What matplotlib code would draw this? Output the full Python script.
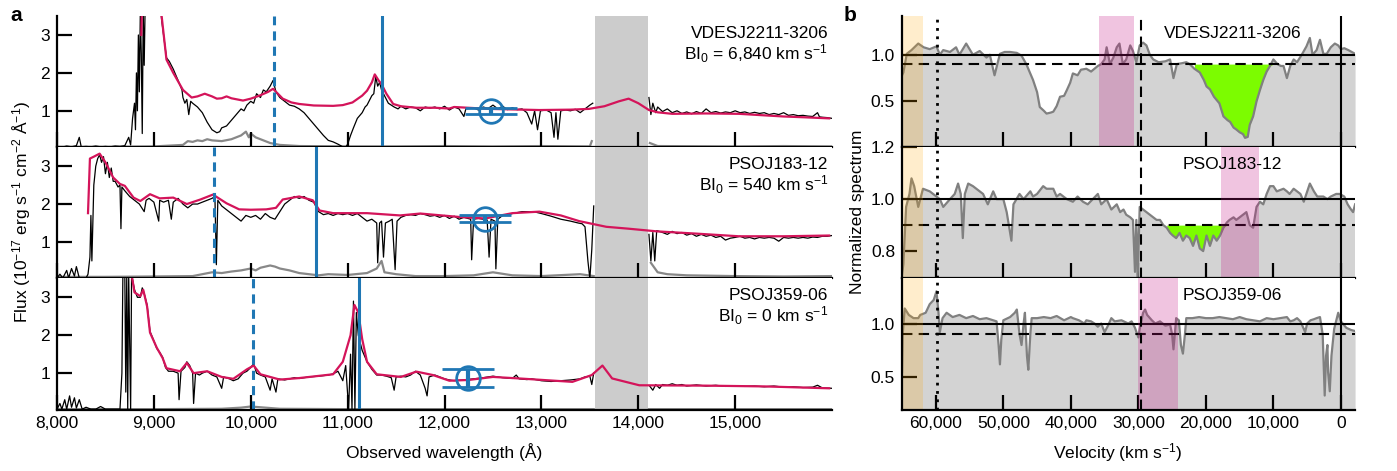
import numpy as np
import matplotlib.pyplot as plt

plt.rcParams['font.family'] = ['Liberation Sans', 'DejaVu Sans']
plt.rcParams['mathtext.fontset'] = 'custom'
plt.rcParams['mathtext.rm'] = 'Liberation Sans'
plt.rcParams['mathtext.it'] = 'Liberation Sans:italic'
plt.rcParams['mathtext.bf'] = 'Liberation Sans:bold'

nan = np.nan

# ---------------- panel a data (wavelength A, flux 1e-17 erg/s/cm2/A) ----------------
names = ['VDESJ2211-3206', 'PSOJ183-12', 'PSOJ359-06']
bi_values = ['6,840', '540', '0']

top_spec = [(8000, 0.06), (8050, 0.04), (8100, 0.07), (8150, 0.05), (8200, 0.08), (8230, 0.3), (8250, 0.05),
            (8300, 0.06), (8350, 0.05), (8400, 0.07), (8450, 0.05), (8500, 0.06), (8550, 0.05), (8600, 0.07),
            (8650, 0.06), (8700, 0.08), (8740, 0.3), (8760, 0.1), (8780, 0.8), (8800, 1.2), (8810, 0.5),
            (8820, 2.0), (8830, 1.0), (8840, 3.0), (8850, 1.5), (8860, 3.6), (8870, 2.5), (8880, 0.4),
            (8890, 3.6), (8900, 2.2), (8910, 3.8), (8950, 4.0), (9060, 4.0), (9080, 3.4), (9100, 3.0),
            (9130, 2.4), (9160, 2.3), (9200, 2.1), (9250, 1.8), (9290, 1.55), (9300, 1.35), (9320, 1.2),
            (9340, 1.3), (9360, 0.9), (9380, 1.25), (9400, 1.2), (9450, 1.1), (9500, 0.95), (9550, 0.7),
            (9600, 0.5), (9650, 0.42), (9680, 0.45), (9700, 0.55), (9750, 0.6), (9800, 0.75), (9850, 0.9),
            (9900, 1.05), (9930, 1.0), (9960, 1.15), (10000, 1.25), (10030, 1.2), (10060, 1.45), (10100, 1.35),
            (10130, 1.55), (10160, 1.5), (10200, 1.65), (10230, 1.8), (10260, 1.5), (10300, 1.35), (10350, 1.25),
            (10400, 1.15), (10450, 1.12), (10500, 1.05), (10550, 0.95), (10600, 0.8), (10650, 0.65), (10700, 0.5),
            (10750, 0.35), (10800, 0.22), (10850, 0.18), (10900, 0.12), (10950, 0.05), (10980, 0.04), (11000, 0.12),
            (11030, 0.35), (11060, 0.55), (11100, 0.8), (11150, 0.95), (11180, 1.1), (11200, 1.15), (11230, 1.3),
            (11250, 1.4), (11270, 1.45), (11290, 1.9), (11310, 1.65), (11330, 1.75), (11350, 1.55), (11380, 1.4),
            (11420, 1.2), (11450, 1.15), (11480, 1.1), (11520, 1.05), (11550, 1.12), (11600, 1.05), (11650, 1.1),
            (11700, 1.08), (11750, 1.0), (11800, 1.1), (11850, 1.07), (11900, 1.1), (11950, 1.05), (12000, 1.12),
            (12050, 1.02), (12100, 1.1), (12150, 1.05), (12200, 0.85), (12220, 1.05), (12300, 1.08), (12350, 1.02),
            (12400, 1.1), (12450, 1.06), (12500, 1.15), (12550, 1.05), (12600, 1.12), (12650, 1.03), (12700, 1.08),
            (12750, 1.03), (12800, 1.05), (12850, 0.95), (12900, 0.65), (12930, 1.0), (12960, 0.5), (12990, 1.0),
            (13050, 1.02), (13100, 0.95), (13130, 0.3), (13150, 0.95), (13170, 0.25), (13200, 1.0), (13250, 1.02),
            (13300, 1.0), (13350, 1.04), (13400, 0.95), (13450, 1.05), (13500, 1.15), (13530, 1.2), (13550, nan),
            (14100, nan), (14110, 1.35), (14130, 0.9), (14150, 1.2), (14180, 0.95), (14200, 1.1), (14250, 0.98),
            (14300, 1.05), (14350, 0.95), (14400, 1.0), (14450, 0.93), (14500, 0.97), (14550, 0.92), (14600, 0.98),
            (14650, 0.93), (14700, 1.05), (14750, 0.95), (14800, 0.98), (14850, 0.94), (14900, 0.97), (14950, 0.95),
            (15000, 1.0), (15050, 0.95), (15100, 0.97), (15150, 0.93), (15200, 0.96), (15250, 0.93), (15300, 0.95),
            (15350, 0.9), (15400, 0.93), (15450, 0.9), (15500, 0.95), (15550, 0.88), (15600, 0.9), (15650, 0.87),
            (15700, 0.88), (15750, 0.86), (15800, 0.85), (15850, 0.95), (15870, 0.84), (15900, 0.83), (15950, 0.82),
            (16000, 0.8)]
top_model = [(8870, 3.0), (8880, 4.0), (9060, 4.0), (9080, 3.5), (9130, 2.35), (9200, 2.0), (9300, 1.55),
             (9390, 1.35), (9450, 1.38), (9525, 1.45), (9600, 1.38), (9650, 1.32), (9700, 1.33), (9750, 1.38),
             (9800, 1.33), (9920, 1.27), (10000, 1.32), (10090, 1.4), (10180, 1.5), (10230, 1.58), (10280, 1.45),
             (10330, 1.32), (10420, 1.22), (10500, 1.18), (10650, 1.14), (10850, 1.13), (10950, 1.15), (11050, 1.22),
             (11150, 1.4), (11200, 1.53), (11250, 1.75), (11280, 1.96), (11320, 1.8), (11350, 1.7), (11400, 1.45),
             (11470, 1.18), (11550, 1.12), (11710, 1.08), (11900, 1.08), (12050, 1.06), (12100, 1.1), (12460, 1.05),
             (12980, 1.02), (13300, 1.03), (13490, 1.05), (13650, 1.12), (13800, 1.25), (13900, 1.32), (14000, 1.2),
             (14110, 1.02), (14200, 0.96), (14350, 0.92), (14700, 0.93), (15040, 0.92), (15300, 0.88), (15500, 0.85),
             (15700, 0.83), (15970, 0.8)]
top_noise = [(8000, 0.05), (8500, 0.05), (9000, 0.06), (9300, 0.1), (9350, 0.2), (9400, 0.18), (9450, 0.22),
             (9500, 0.2), (9550, 0.25), (9600, 0.22), (9700, 0.2), (9800, 0.25), (9850, 0.3), (9900, 0.35),
             (9950, 0.45), (9980, 0.3), (10000, 0.4), (10050, 0.3), (10100, 0.25), (10200, 0.15), (10300, 0.1),
             (10500, 0.07), (11000, 0.06), (11500, 0.06), (12000, 0.07), (12500, 0.06), (13000, 0.07),
             (13500, 0.06), (13520, 0.2), (13540, nan), (14110, nan), (14120, 0.15), (14200, 0.07), (15000, 0.06),
             (15500, 0.07), (16000, 0.06)]

mid_spec = [(8000, 0.05), (8030, 0.15), (8060, 0.05), (8100, 0.25), (8120, 0.05), (8150, 0.3), (8180, 0.1),
            (8200, 0.35), (8230, 0.05), (8260, 0.05), (8300, 0.05), (8320, 0.15), (8340, 0.6), (8350, 1.7),
            (8360, 0.5), (8380, 2.5), (8400, 3.0), (8420, 3.2), (8440, 3.3), (8460, 3.1), (8480, 3.25), (8500, 2.8),
            (8520, 3.1), (8540, 2.7), (8560, 2.95), (8580, 2.6), (8600, 2.6), (8630, 2.45), (8650, 2.5), (8660, 1.35),
            (8670, 2.45), (8700, 2.35), (8750, 2.2), (8800, 2.1), (8850, 2.0), (8900, 1.8), (8920, 2.1), (8950, 2.15),
            (9000, 2.05), (9050, 1.55), (9060, 2.1), (9100, 2.05), (9150, 2.1), (9180, 1.6), (9200, 2.05),
            (9250, 2.15), (9300, 2.0), (9350, 1.9), (9400, 2.0), (9450, 2.0), (9500, 2.05), (9550, 2.1), (9600, 2.15),
            (9630, 2.2), (9645, 0.4), (9660, 2.1), (9700, 1.95), (9750, 1.85), (9800, 1.75), (9850, 1.65),
            (9900, 1.55), (9950, 1.7), (10000, 1.65), (10050, 1.7), (10100, 1.6), (10150, 1.75), (10200, 1.65),
            (10250, 1.6), (10300, 1.8), (10350, 2.0), (10400, 2.1), (10450, 2.2), (10500, 2.15), (10550, 2.2),
            (10600, 2.1), (10650, 2.05), (10700, 1.8), (10750, 1.72), (10800, 1.75), (10850, 1.7), (10900, 1.75),
            (10950, 1.72), (11000, 1.75), (11050, 1.7), (11100, 1.75), (11150, 1.65), (11200, 1.55), (11250, 1.6),
            (11300, 1.5), (11310, 0.45), (11330, 1.5), (11350, 1.55), (11370, 0.6), (11390, 1.5), (11430, 1.55),
            (11460, 1.6), (11490, 0.27), (11510, 1.55), (11550, 1.65), (11600, 1.7), (11650, 1.72), (11700, 1.7),
            (11750, 1.75), (11800, 1.72), (11850, 1.68), (11900, 1.7), (11950, 1.65), (12000, 1.7), (12050, 1.62),
            (12100, 1.68), (12150, 1.6), (12200, 1.65), (12270, 1.6), (12280, 0.53), (12300, 1.6), (12350, 1.62),
            (12400, 1.6), (12440, 1.58), (12460, 0.6), (12480, 1.6), (12520, 1.55), (12530, 0.29), (12550, 1.6),
            (12600, 1.7), (12700, 1.75), (12800, 1.8), (12900, 1.8), (12950, 1.78), (13000, 1.75), (13100, 1.68),
            (13200, 1.6), (13300, 1.55), (13380, 1.5), (13420, 1.48), (13450, 1.4), (13480, 0.5), (13500, 0.03),
            (13520, 0.8), (13540, 1.95), (13550, nan), (14100, nan), (14110, 1.2), (14130, 0.5), (14150, 1.25),
            (14170, 0.5), (14190, 1.3), (14250, 1.25), (14300, 1.2), (14350, 1.28), (14400, 1.22), (14450, 1.25),
            (14500, 1.18), (14550, 1.22), (14600, 1.15), (14650, 1.2), (14700, 1.15), (14750, 1.18), (14800, 1.12),
            (14850, 1.15), (14900, 1.05), (14950, 1.1), (15000, 1.12), (15050, 1.15), (15100, 1.1), (15150, 1.12),
            (15200, 1.08), (15250, 1.12), (15300, 1.1), (15350, 1.12), (15400, 1.1), (15450, 1.02), (15500, 1.12),
            (15550, 1.1), (15600, 1.12), (15650, 1.1), (15700, 1.12), (15750, 1.1), (15800, 1.13), (15850, 1.12),
            (15900, 1.15), (15950, 1.15), (16000, 1.17)]
mid_model = [(8320, 1.76), (8340, 3.2), (8380, 3.25), (8440, 3.33), (8500, 3.1), (8580, 2.7), (8650, 2.53),
             (8700, 2.48), (8790, 2.17), (8860, 2.08), (8960, 2.26), (9060, 2.15), (9200, 2.17), (9340, 2.0),
             (9480, 2.12), (9610, 2.25), (9750, 2.02), (9880, 1.86), (10000, 1.85), (10160, 1.86), (10260, 1.9),
             (10330, 2.12), (10500, 2.2), (10640, 2.1), (10710, 1.83), (10850, 1.76), (11200, 1.76), (11540, 1.7),
             (11750, 1.75), (12150, 1.66), (12420, 1.62), (12700, 1.76), (12980, 1.8), (13200, 1.7), (13390, 1.55),
             (13670, 1.4), (13900, 1.35), (14190, 1.28), (14600, 1.22), (15040, 1.15), (15500, 1.15), (15970, 1.17)]
mid_noise = [(8000, 0.08), (8500, 0.08), (9000, 0.09), (9400, 0.1), (9500, 0.15), (9600, 0.2), (9700, 0.18),
             (9800, 0.22), (9900, 0.25), (10000, 0.3), (10050, 0.25), (10100, 0.32), (10200, 0.38), (10250, 0.35),
             (10300, 0.3), (10400, 0.25), (10500, 0.18), (10600, 0.15), (10700, 0.12), (10800, 0.15), (11000, 0.13),
             (11200, 0.18), (11300, 0.3), (11350, 0.5), (11380, 0.2), (11500, 0.15), (11700, 0.1), (12000, 0.1),
             (12300, 0.12), (12500, 0.2), (12700, 0.12), (13000, 0.1), (13400, 0.15), (13540, 0.1), (13550, nan),
             (14100, nan), (14130, 0.45), (14200, 0.2), (14300, 0.15), (14500, 0.12), (15000, 0.1), (15500, 0.09),
             (16000, 0.1)]

bot_spec = [(8000, 0.05), (8030, 0.2), (8050, 0.05), (8080, 0.3), (8100, 0.05), (8130, 0.4), (8150, 0.1),
            (8180, 0.35), (8200, 0.08), (8230, 0.3), (8260, 0.05), (8300, 0.1), (8350, 0.05), (8400, 0.05),
            (8450, 0.12), (8500, 0.05), (8550, 0.05), (8600, 0.05), (8650, 0.05), (8670, 1.0), (8680, 3.6),
            (8700, 3.6), (8710, 0.5), (8720, 3.6), (8730, 0.05), (8740, 3.6), (8760, 0.05), (8770, 3.6),
            (8800, 3.2), (8830, 3.0), (8860, 3.0), (8880, 3.25), (8900, 3.1), (8930, 2.8), (8960, 2.1),
            (9000, 1.85), (9030, 1.65), (9060, 1.55), (9090, 1.42), (9120, 1.15), (9150, 1.05), (9200, 1.05),
            (9250, 1.0), (9260, 0.3), (9280, 1.05), (9320, 1.15), (9340, 1.3), (9370, 1.2), (9400, 1.0), (9410, 0.2),
            (9430, 1.0), (9470, 0.95), (9500, 1.0), (9550, 1.05), (9600, 0.95), (9650, 0.9), (9700, 0.6),
            (9720, 0.9), (9780, 0.85), (9820, 0.8), (9870, 0.85), (9920, 1.0), (9960, 1.05), (10000, 1.15),
            (10030, 1.25), (10060, 1.0), (10100, 0.95), (10150, 0.9), (10200, 0.55), (10220, 0.85), (10260, 0.5),
            (10280, 0.85), (10350, 0.82), (10400, 0.85), (10450, 0.88), (10500, 0.86), (10600, 0.9), (10700, 0.92),
            (10800, 0.95), (10850, 0.98), (10900, 1.05), (10950, 0.8), (10980, 1.2), (11010, 0.05), (11030, 1.5),
            (11045, 0.05), (11060, 2.9), (11075, 0.05), (11090, 2.6), (11110, 2.0), (11150, 1.6), (11200, 1.3),
            (11250, 1.1), (11300, 0.95), (11350, 0.95), (11400, 0.92), (11450, 0.88), (11480, 0.55), (11500, 0.9),
            (11550, 0.92), (11600, 0.9), (11650, 0.95), (11700, 1.05), (11750, 0.95), (11800, 0.6), (11820, 0.4),
            (11840, 0.9), (11900, 0.95), (11950, 0.9), (12000, 0.85), (12050, 0.82), (12100, 0.8), (12200, 0.82),
            (12300, 0.85), (12400, 0.88), (12500, 0.92), (12550, 0.9), (12600, 0.88), (12700, 0.86), (12740, 0.95),
            (12770, 0.85), (12850, 0.83), (12900, 0.85), (13000, 0.8), (13100, 0.78), (13200, 0.8), (13300, 0.82),
            (13400, 0.85), (13450, 0.9), (13500, 0.92), (13520, 0.7), (13540, 1.0), (13550, nan), (14100, nan),
            (14120, 0.65), (14150, 0.55), (14180, 0.7), (14220, 0.6), (14250, 0.7), (14300, 0.68), (14350, 0.72),
            (14400, 0.68), (14450, 0.7), (14500, 0.66), (14600, 0.69), (14700, 0.66), (14800, 0.68), (14900, 0.65),
            (15000, 0.67), (15100, 0.65), (15200, 0.66), (15300, 0.64), (15400, 0.66), (15500, 0.63), (15600, 0.64),
            (15700, 0.62), (15800, 0.63), (15850, 0.68), (15900, 0.61), (16000, 0.6)]
bot_model = [(8770, 3.6), (8800, 3.13), (8860, 3.03), (8890, 3.2), (8930, 2.76), (8960, 2.07), (9030, 1.67),
             (9090, 1.4), (9130, 1.13), (9270, 1.05), (9340, 1.27), (9410, 1.0), (9550, 1.05), (9700, 0.9),
             (9820, 0.85), (9960, 1.1), (10030, 1.2), (10100, 0.97), (10300, 0.83), (10500, 0.87), (10850, 0.97),
             (10950, 1.3), (11030, 2.0), (11070, 2.8), (11110, 2.6), (11150, 1.9), (11200, 1.3), (11300, 0.97),
             (11550, 0.9), (11710, 1.04), (11880, 0.95), (12050, 0.8), (12250, 0.82), (12500, 0.9), (12770, 0.86),
             (13320, 0.77), (13520, 0.95), (13630, 1.2), (13730, 0.86), (14010, 0.68), (14700, 0.67), (15300, 0.65),
             (15970, 0.6)]
bot_noise = [(8000, 0.05), (9000, 0.05), (9700, 0.06), (9900, 0.09), (10000, 0.12), (10100, 0.1), (10300, 0.06),
             (11000, 0.05), (12000, 0.05), (13000, 0.05), (13540, 0.05), (13550, nan), (14100, nan), (14110, 0.05),
             (15000, 0.05), (16000, 0.05)]

shade_a = (13550, 14100)
dashed_lines = [10240, 9625, 10025]
solid_lines = [11355, 10670, 11115]
points = [(12480, 1.0, 0.08), (12420, 1.61, 0.09), (12240, 0.87, 0.24)]

# ---------------- panel b data (velocity km/s, normalized flux) ----------------
b_top = [(65000, 0.78), (64800, 0.81), (64300, 1.01), (63600, 1.05), (62600, 1.12), (61800, 1.08), (60900, 1.06),
         (59900, 1.09), (59400, 1.0), (58900, 1.05), (57900, 1.03), (57000, 1.08), (56500, 1.0), (55500, 1.12),
         (54500, 1.0), (53500, 1.04), (52500, 0.97), (52000, 1.0), (51300, 0.78), (50500, 1.01), (49800, 1.03),
         (49000, 1.03), (48000, 1.02), (47300, 0.99), (46600, 0.9), (45600, 0.73), (45000, 0.6), (44600, 0.44),
         (44000, 0.4), (43600, 0.37), (43000, 0.38), (42600, 0.39), (42100, 0.45), (41600, 0.55), (41000, 0.56),
         (40600, 0.62), (40100, 0.7), (39700, 0.8), (39000, 0.78), (38500, 0.84), (37700, 0.85), (37000, 0.82),
         (36000, 0.88), (35500, 0.9), (35000, 0.95), (34700, 1.08), (34200, 0.9), (33700, 0.97), (33200, 1.08),
         (32800, 1.12), (32300, 0.9), (31800, 0.95), (31200, 1.1), (30800, 1.04), (30300, 0.92), (29800, 1.1),
         (29300, 1.13), (28800, 1.1), (28300, 1.0), (27800, 0.95), (27000, 0.92), (26000, 0.93), (25300, 0.95),
         (24800, 0.75), (24300, 0.9), (23500, 0.91), (22900, 0.92), (22400, 0.9), (21700, 0.85), (20900, 0.81),
         (20300, 0.73), (19900, 0.66), (19400, 0.63), (18800, 0.55), (18000, 0.48), (17400, 0.34), (16800, 0.3),
         (16400, 0.28), (15900, 0.22), (15500, 0.2), (15000, 0.17), (14500, 0.15), (14200, 0.11), (13800, 0.12),
         (13500, 0.25), (13000, 0.34), (12500, 0.5), (12000, 0.62), (11500, 0.73), (11000, 0.82), (10500, 0.88),
         (10000, 0.95), (9400, 0.9), (8900, 0.88), (8500, 0.88), (8000, 0.75), (7500, 0.88), (7000, 0.95),
         (6500, 0.92), (5800, 1.0), (5100, 1.09), (4600, 1.18), (4200, 1.0), (3600, 1.05), (3100, 1.16),
         (2600, 1.01), (2100, 1.01), (1500, 1.08), (900, 1.12), (400, 1.1), (0, 1.06), (-500, 1.07), (-1100, 1.05),
         (-1600, 1.03), (-2100, 1.01)]
b_mid = [(65000, 0.71), (64800, 0.75), (64400, 0.97), (63900, 1.02), (63600, 1.08), (63200, 1.05), (62600, 0.97),
         (62100, 1.02), (61900, 1.04), (60900, 1.03), (60400, 1.02), (59400, 1.0), (58900, 0.97), (57900, 1.0),
         (57200, 1.02), (56700, 1.06), (56300, 1.02), (56000, 0.85), (55700, 1.02), (55200, 1.06), (54500, 1.05),
         (53500, 1.03), (53000, 1.02), (52300, 0.98), (51500, 1.03), (51000, 1.0), (50000, 1.0), (49500, 0.95),
         (48800, 0.84), (48500, 0.98), (47600, 1.02), (47000, 1.0), (46000, 1.03), (45600, 1.01), (45000, 1.02),
         (44100, 1.05), (43600, 1.04), (42600, 1.04), (42100, 1.01), (41600, 1.02), (40600, 1.0), (39700, 0.99),
         (39000, 1.01), (38200, 0.99), (37500, 0.98), (36000, 1.02), (35500, 0.98), (34700, 1.0), (34000, 0.96),
         (33200, 0.98), (32700, 0.95), (32200, 0.96), (31800, 0.94), (31200, 0.93), (30800, 0.92), (30500, 0.72),
         (30300, 0.92), (30100, 0.7), (29800, 0.97), (29300, 0.96), (28800, 0.95), (28300, 0.94), (27800, 0.93),
         (27300, 0.92), (26800, 0.92), (26300, 0.9), (25800, 0.89), (25300, 0.87), (24900, 0.86), (24400, 0.85),
         (23900, 0.87), (23400, 0.84), (22900, 0.86), (22400, 0.85), (21900, 0.82), (21400, 0.86), (20900, 0.81),
         (20400, 0.8), (19900, 0.86), (19400, 0.82), (18900, 0.86), (18400, 0.84), (17900, 0.86), (17400, 0.89),
         (16900, 0.91), (16500, 0.92), (15900, 0.93), (15500, 0.92), (15000, 0.93), (14500, 0.94), (14000, 0.95),
         (13500, 0.9), (13000, 0.89), (12500, 0.97), (12000, 0.99), (11500, 0.98), (11000, 1.02), (10500, 1.05),
         (10000, 1.05), (9500, 1.03), (8500, 1.04), (8000, 1.03), (7600, 1.02), (7000, 1.04), (6500, 1.03),
         (6000, 1.02), (5500, 0.99), (4600, 1.06), (4000, 1.03), (3500, 1.01), (2600, 1.01), (2000, 1.0),
         (1500, 1.01), (700, 1.02), (200, 1.02), (-500, 1.01), (-1000, 0.98), (-1500, 0.96), (-1800, 0.95),
         (-2100, 0.98)]
b_bot = [(65000, 0.55), (64900, 0.9), (64600, 1.14), (64000, 1.08), (63300, 1.05), (62600, 1.05), (62300, 1.08),
         (61500, 1.1), (60900, 1.18), (60300, 1.22), (59900, 1.3), (59600, 1.1), (59400, 0.92), (59000, 1.05),
         (58400, 1.1), (57500, 1.06), (56500, 1.08), (55500, 1.05), (54500, 1.07), (53500, 1.04), (52500, 1.05),
         (51500, 1.03), (51000, 1.02), (50700, 0.8), (50500, 0.62), (50300, 0.85), (50000, 1.03), (49000, 1.06),
         (48300, 1.1), (48000, 1.13), (47600, 0.9), (47300, 0.8), (47000, 1.0), (46800, 1.1), (46500, 0.7),
         (46300, 0.57), (46000, 0.9), (45800, 1.05), (45000, 1.05), (44000, 1.06), (43000, 1.05), (42100, 1.07),
         (41000, 1.03), (40000, 1.06), (39700, 1.05), (38800, 1.03), (38000, 1.0), (37700, 1.03), (37000, 1.02),
         (36500, 1.0), (36000, 0.97), (35500, 1.0), (35000, 0.92), (34500, 0.98), (34000, 1.05), (33500, 1.02),
         (32500, 1.03), (31500, 1.0), (31000, 1.02), (30500, 0.96), (30000, 0.87), (29800, 0.95), (29300, 1.1),
         (29000, 1.13), (28700, 1.08), (28000, 1.03), (27500, 1.0), (26800, 1.02), (26000, 0.98), (25300, 0.99),
         (25000, 0.9), (24800, 0.76), (24600, 0.9), (24400, 1.05), (24000, 1.03), (23700, 0.8), (23400, 0.72),
         (23100, 0.9), (22900, 1.05), (22000, 1.05), (21000, 1.06), (20000, 1.05), (19000, 1.05), (18000, 1.06),
         (17000, 1.05), (16000, 1.04), (15000, 1.06), (14000, 1.04), (13000, 1.03), (12000, 1.02), (11000, 1.05),
         (10000, 1.04), (9000, 1.05), (8000, 1.06), (7500, 1.02), (7000, 1.03), (6500, 1.05), (6000, 1.02),
         (5500, 0.95), (5300, 0.92), (5000, 1.0), (4500, 1.03), (4000, 1.04), (3600, 1.05), (3100, 1.06),
         (2700, 0.9), (2400, 0.33), (2200, 0.7), (2000, 0.8), (1900, 0.55), (1650, 0.37), (1400, 0.7),
         (1000, 0.95), (600, 1.05), (400, 1.1), (0, 1.02), (-800, 0.96), (-1500, 0.94), (-2100, 0.93)]

b_ylims = [(0.01, 1.415), (0.695, 1.2), (0.2, 1.42)]
b_yticks = [[0.5, 1.0], [0.8, 1.0, 1.2], [0.5, 1.0]]
orange_band = (65000, 61950)
pink_bands = [(35850, 30650), (17700, 12170), (30050, 24100)]
green_ranges = [(9550, 21900), (16200, 26100), None]
dotted_v = 59850
dashed_v = 29650

blue = '#1f77b4'
magenta = '#d4145a'

fig = plt.figure(figsize=(13.97, 4.71), dpi=100)
tops = [0.966, 0.6875, 0.409]
h = 0.2785


def style_axis(ax):
    for s in ['top', 'right']:
        ax.spines[s].set_visible(False)
    for s in ['left', 'bottom']:
        ax.spines[s].set_linewidth(1.6)
        ax.spines[s].set_zorder(8)
    ax.set_axisbelow(False)
    ax.tick_params(direction='in', length=11, width=1.6, labelsize=12.5, pad=5, zorder=8)
    for t in ax.xaxis.get_major_ticks() + ax.yaxis.get_major_ticks():
        t.set_zorder(8)


# ---- panel a
spectra = [(top_spec, top_model, top_noise), (mid_spec, mid_model, mid_noise), (bot_spec, bot_model, bot_noise)]
for i in range(3):
    ax = fig.add_axes([0.0408, tops[i] - h, 0.5548, h])
    spec, model, noise = [np.array(d, dtype=float) for d in spectra[i]]
    ax.axvspan(*shade_a, color='#cccccc', lw=0, zorder=0)
    ax.plot(noise[:, 0], noise[:, 1], color='#888888', lw=1.6, zorder=1)
    ax.plot(spec[:, 0], spec[:, 1], color='black', lw=0.9, zorder=2)
    ax.plot(model[:, 0], model[:, 1], color=magenta, lw=1.6, zorder=3)
    ax.axvline(dashed_lines[i], color=blue, lw=2.2, ls=(0, (3, 2)), zorder=4)
    ax.axvline(solid_lines[i], color=blue, lw=2.2, zorder=4)
    px, py, pe = points[i]
    ax.errorbar(px, py, yerr=pe, fmt='o', ms=17, mfc='none', mec=blue, mew=2, ecolor=blue,
                elinewidth=3, capsize=19, capthick=3, zorder=5)
    ax.text(0.995, 0.87, names[i], transform=ax.transAxes, ha='right', va='center', fontsize=12.5)
    ax.text(0.995, 0.715, 'BI$_0$ = ' + bi_values[i] + ' km s$^{-1}$', transform=ax.transAxes,
            ha='right', va='center', fontsize=12.5)
    ax.set_xlim(8000, 16000)
    ax.set_ylim(0.04, 3.5)
    ax.set_yticks([1, 2, 3])
    ax.set_xticks(range(8000, 16000, 1000))
    if i == 2:
        ax.set_xticklabels(['{:,}'.format(v) for v in range(8000, 16000, 1000)])
    else:
        ax.set_xticklabels([])
    style_axis(ax)

# ---- panel b
b_spectra = [b_top, b_mid, b_bot]
for i in range(3):
    ax = fig.add_axes([0.6457, tops[i] - h, 0.3243, h])
    d = np.array(b_spectra[i], dtype=float)
    v, s = d[:, 0], d[:, 1]
    ax.fill_between(v, -1, s, color='#d3d3d3', lw=0, zorder=1)
    if green_ranges[i] is not None:
        lo, hi = green_ranges[i]
        ax.fill_between(v, np.minimum(s, 0.9), 0.9, where=(v >= lo) & (v <= hi),
                        color='#7cfc00', lw=0, zorder=2)
    ax.plot(v, s, color='#808080', lw=1.6, zorder=3)
    ax.axhline(1.0, color='black', lw=1.5, zorder=4)
    ax.axhline(0.9, color='black', lw=1.5, ls=(0, (5, 3)), zorder=4)
    ax.axvspan(*orange_band, color='orange', alpha=0.2, lw=0, zorder=5)
    ax.axvspan(*pink_bands[i], color='#c71585', alpha=0.25, lw=0, zorder=5)
    ax.axvline(dotted_v, color='black', lw=2, ls=(0, (1, 2)), zorder=6)
    ax.axvline(dashed_v, color='black', lw=1.5, ls=(0, (5, 3)), zorder=6)
    ax.axvline(0, color='black', lw=1.5, zorder=6)
    ax.text(0.729, 0.87, names[i], transform=ax.transAxes, ha='center', va='center', fontsize=12.5, zorder=7)
    ax.set_xlim(65000, -2100)
    ax.set_ylim(*b_ylims[i])
    ax.set_yticks(b_yticks[i])
    ax.set_yticklabels(['{:.1f}'.format(t) for t in b_yticks[i]])
    ax.set_xticks(range(60000, -1, -10000))
    if i == 2:
        ax.set_xticklabels(['{:,}'.format(t) for t in range(60000, -1, -10000)])
    else:
        ax.set_xticklabels([])
    style_axis(ax)

fig.text(0.0157, 0.55, 'Flux (10$^{-17}$ erg s$^{-1}$ cm$^{-2}$ Å$^{-1}$)', rotation=90,
         ha='center', va='center', fontsize=12.5)
fig.text(0.318, 0.04, 'Observed wavelength (Å)', ha='center', va='center', fontsize=12.5)
fig.text(0.614, 0.55, 'Normalized spectrum', rotation=90, ha='center', va='center', fontsize=12.5)
fig.text(0.80, 0.04, 'Velocity (km s$^{-1}$)', ha='center', va='center', fontsize=12.5)
fig.text(0.0115, 0.968, 'a', fontsize=15, fontweight='bold', ha='center', va='center')
fig.text(0.6085, 0.968, 'b', fontsize=15, fontweight='bold', ha='center', va='center')

fig.savefig('out.png', dpi=100)
